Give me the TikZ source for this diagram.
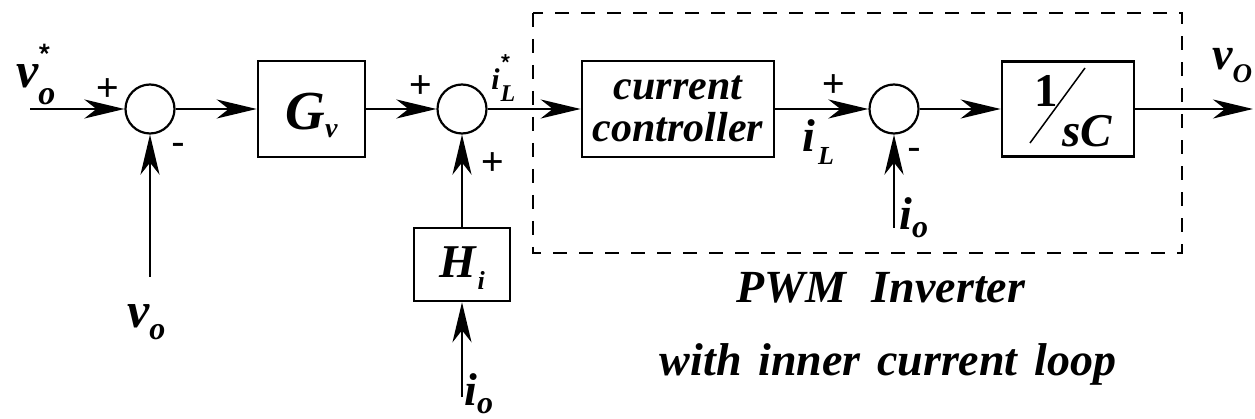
\documentclass[tikz,border=0pt]{standalone}
\usepackage{fontspec}
\newfontfamily\tms{Liberation Serif}
\newfontfamily\hlv{TeX Gyre Heros}
\usetikzlibrary{arrows.meta}
\newcommand{\fsz}[1]{\fontsize{#1}{#1}\selectfont}

\begin{document}
\begin{tikzpicture}[x=1pt, y=-1pt, line width=2.6pt, >={Stealth[length=40pt,width=19pt,inset=12pt]}]
    \tikzstyle{block}=[draw, line width=2.6pt, inner sep=0pt, font=\tms\bfseries\itshape]
    \tikzstyle{sum}=[draw, circle, minimum size=49pt, inner sep=0pt, line width=2.2pt]
    \tikzstyle{sig}=[font=\tms\bfseries\itshape, anchor=base west, inner sep=0pt]
    \tikzstyle{sgn}=[font=\hlv\fsz{42}, anchor=base, inner sep=0pt]
    \useasboundingbox (0,0) rectangle (1255,419);
    \node[sum] (s1) at (150,109) {};
    \node[block, minimum width=107pt, minimum height=96pt, text height=42pt, text depth=0pt] (gv) at (311.5,109) {\fsz{55}G\raisebox{-8pt}{\fsz{28}v}};
    \node[sum] (s2) at (462,109) {};
    \node[block, minimum width=96pt, minimum height=73pt, text height=27pt, text depth=0pt] (hi) at (462,264.5) {\fsz{47}H\kern2pt\raisebox{-12pt}{\fsz{26}i}};
    \node[block, minimum width=192pt, minimum height=96pt, align=center, font=\tms\bfseries\itshape\fsz{42}] (cc) at (678,109) {current\\[0pt]controller};
    \node[sum] (s3) at (894,109) {};
    \node[block, minimum width=132pt, minimum height=95pt] (sc) at (1068,109) {};
    \node[sig] (sc1) at (1033,107) {\upshape\fsz{47}1};
    \node[sig] (sc2) at (1061,147) {\fsz{47}sC};
    \draw[line width=1.5pt] (1030,143) -- (1085,68);
    \draw[line width=2pt, dash pattern=on 14pt off 12pt] (533,13) rectangle (1182,253);
    \coordinate (in) at (30,109);
    \coordinate (out) at (1253,109);
    \coordinate (vfb) at (150,277);
    \coordinate (io1) at (462,397);
    \coordinate (io2) at (894,228);
    \draw[->] (in) -- (s1); \draw[->] (s1) -- (gv); \draw[->] (gv) -- (s2);
    \draw[->] (s2) -- (cc); \draw[->] (cc) -- (s3); \draw[->] (s3) -- (sc);
    \draw[->] (sc) -- (out);
    \draw[->] (vfb) -- (s1); \draw[->] (hi) -- (s2); \draw[->] (io1) -- (hi);
    \draw[->] (io2) -- (s3);
    \node[sgn] (p1) at (108,99) {+};
    \node[sgn] (m1) at (178,157) {-};
    \node[sgn] (p2) at (421,96) {+};
    \node[sgn] (p3) at (493,173) {+};
    \node[sgn] (p4) at (834,95) {+};
    \node[sgn] (m3) at (914,162) {-};
    \node[sig] (vref) at (15,88) {\fsz{50}v\kern0pt\rlap{\raisebox{-17pt}{\fsz{34}o}}\raisebox{20pt}{\hlv\upshape\fsz{32}*}};
    \node[sig] (vo) at (126,328) {\fsz{50}v\raisebox{-12pt}{\fsz{32}o}};
    \node[sig] (ilref) at (490,90) {\fsz{30}i\kern1pt\rlap{\raisebox{-12pt}{\fsz{24}L}}\raisebox{16pt}{\hlv\upshape\fsz{26}*}};
    \node[sig] (il) at (801,152) {\fsz{46}i\kern3pt\raisebox{-13pt}{\fsz{26}L}};
    \node[sig] (io3) at (898,230) {\fsz{46}i\raisebox{-8pt}{\fsz{32}o}};
    \node[sig] (io4) at (463,405) {\fsz{46}i\raisebox{-8pt}{\fsz{32}o}};
    \node[sig] (vout) at (1211,70) {\fsz{46}v\raisebox{-13pt}{\fsz{27}O}};
    \node[sig, anchor=base] (pwm) at (881,303) {\fsz{46}PWM\hspace{0.55em}Inverter};
    \node[sig, anchor=base] (loop) at (888,375) {\fsz{46}\spaceskip=0.36em with inner current loop};
\end{tikzpicture}
\end{document}
